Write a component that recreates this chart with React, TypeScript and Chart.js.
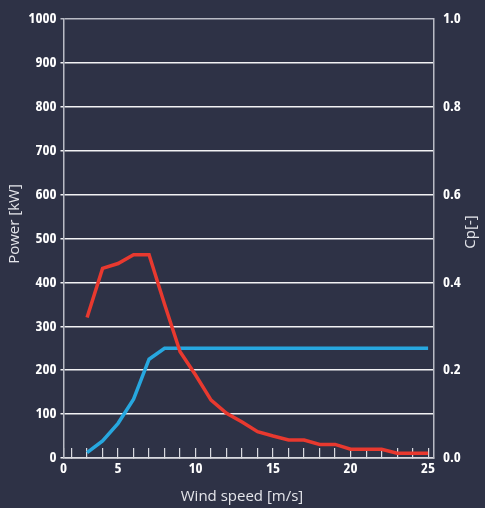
import { useRef, useEffect } from 'react'
import { Chart, registerables } from 'chart.js'

Chart.register(...registerables)

// wind speed [m/s] for each data point
const speeds = [3, 4, 5, 6, 7, 8, 9, 10, 11, 12, 13, 14, 15, 16, 17, 18, 19, 20, 21, 22, 23, 24, 25]
// power curve [kW]
const power = [12, 39, 79, 134, 225, 250, 250, 250, 250, 250, 250, 250, 250, 250, 250, 250, 250, 250, 250, 250, 250, 250, 250]
// power coefficient Cp [-]
const cp = [
  0.32, 0.432, 0.443, 0.463, 0.463, 0.35, 0.242, 0.189, 0.132, 0.102, 0.082, 0.06, 0.05, 0.041, 0.041, 0.031,
  0.031, 0.02, 0.02, 0.02, 0.011, 0.011, 0.011,
]

// x axis is drawn from just under 1.5 m/s, that edge is labelled "0"
const X_MIN = 1.48
const X_MAX = 25.38
const xMarks = [X_MIN, 2, 3, 4, 5, 6, 7, 8, 9, 10, 11, 12, 13, 14, 15, 16, 17, 18, 19, 20, 21, 22, 23, 24, 25]
const xLabelAt = [X_MIN, 5, 10, 15, 20, 25]
const xLabels = ['0', '5', '10', '15', '20', '25']

const BG = '#2e3246'
const RED = '#e8392f'
const BLUE = '#27a7df'
const AXIS = '#b9bbc5'
// Open Sans is a variable font here, so "condensed" gives a narrow face
const TICK_FONT = { family: "'Open Sans', sans-serif", weight: '700 condensed', size: 15 } as any
const TITLE_FONT = "'Open Sans', sans-serif"

// axis titles (the right one reads bottom-to-top, like the left one)
const titles = {
  id: 'titles',
  afterDraw(chart: Chart) {
    const { ctx, chartArea } = chart
    ctx.save()
    ctx.fillStyle = '#e4e5ea'
    ctx.font = `15px ${TITLE_FONT}`
    ctx.textAlign = 'center'
    ctx.textBaseline = 'middle'
    ctx.fillText('Wind speed [m/s]', 242, chartArea.bottom + 39)
    ctx.translate(15, 224)
    ctx.rotate(-Math.PI / 2)
    ctx.fillText('Power [kW]', 0, 0)
    ctx.restore()
    ctx.save()
    ctx.fillStyle = '#e4e5ea'
    ctx.font = `15px ${TITLE_FONT}`
    ctx.textAlign = 'center'
    ctx.textBaseline = 'middle'
    ctx.translate(471, 232)
    ctx.rotate(-Math.PI / 2)
    ctx.fillText('Cp[-]', 0, 0)
    ctx.restore()
  },
}

export default function App() {
  const canvasRef = useRef<HTMLCanvasElement>(null)

  useEffect(() => {
    document.body.style.margin = '0'
    if (!canvasRef.current) return
    const chart = new Chart(canvasRef.current, {
      type: 'line',
      data: {
        datasets: [
          {
            label: 'Cp',
            data: speeds.map((x, i) => ({ x, y: cp[i] })),
            borderColor: RED,
            borderWidth: 3.5,
            pointRadius: 0,
            yAxisID: 'y1',
          },
          {
            label: 'Power',
            data: speeds.map((x, i) => ({ x, y: power[i] })),
            borderColor: BLUE,
            borderWidth: 3.5,
            pointRadius: 0,
            yAxisID: 'y',
          },
        ],
      },
      options: {
        animation: false,
        responsive: false,
        layout: { padding: { top: 19, left: 0, right: 0, bottom: 0 } },
        plugins: { legend: { display: false }, tooltip: { enabled: false } },
        scales: {
          x: {
            type: 'linear',
            min: X_MIN,
            max: X_MAX,
            afterBuildTicks: (s) => {
              s.ticks = xMarks.map((value) => ({ value }))
            },
            afterFit: (s) => {
              s.height = 50
            },
            grid: {
              drawOnChartArea: false,
              drawTicks: true,
              tickLength: -10,
              color: '#d9dae0',
              lineWidth: 1.2,
            },
            border: { color: '#d9dae0', width: 1.5 },
            ticks: {
              autoSkip: false,
              maxRotation: 0,
              padding: 12,
              color: '#ffffff',
              font: TICK_FONT,
              callback: (v) => {
                const k = xLabelAt.indexOf(Number(v))
                return k >= 0 ? xLabels[k] : ''
              },
            },
          },
          y: {
            position: 'left',
            min: 0,
            max: 1000,
            afterFit: (s) => {
              s.width = 63.5
            },
            grid: {
              color: (c) => (c.tick && c.tick.value === 1000 ? AXIS : '#f2f2f4'),
              lineWidth: 1.5,
              tickLength: 3,
            },
            border: { color: AXIS, width: 1.5 },
            ticks: {
              stepSize: 100,
              padding: 4,
              color: '#ffffff',
              font: TICK_FONT,
              callback: (v) => String(v),
            },
          },
          y1: {
            position: 'right',
            min: 0,
            max: 1,
            afterFit: (s) => {
              s.width = 51
            },
            grid: { display: false, drawTicks: false },
            border: { color: AXIS, width: 1.5 },
            ticks: {
              stepSize: 0.2,
              padding: 9,
              color: '#ffffff',
              font: TICK_FONT,
              callback: (v) => Number(v).toFixed(1),
            },
          },
        },
      },
      plugins: [titles],
    })
    return () => chart.destroy()
  }, [])

  return (
    <div style={{ width: 485, height: 508, background: BG }}>
      <canvas ref={canvasRef} width={485} height={508} />
    </div>
  )
}
